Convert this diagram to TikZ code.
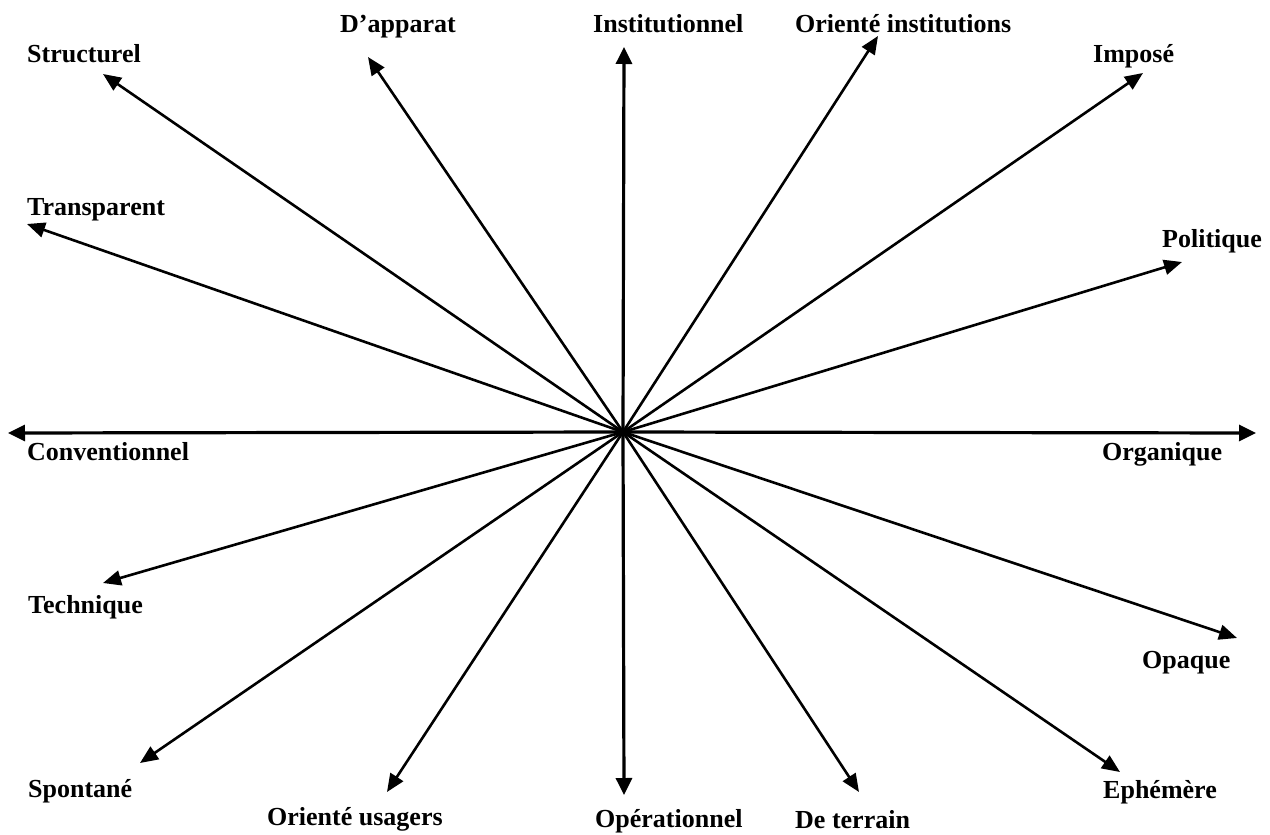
\documentclass[tikz,border=0pt]{standalone}
\usepackage{fontspec}
\setmainfont{Liberation Serif}
\usetikzlibrary{arrows.meta}
\begin{document}
\begin{tikzpicture}[x=1pt,y=-1pt,
  lbl/.style={anchor=base west,inner sep=0pt,font=\fontsize{26}{30}\selectfont\bfseries},
  ray/.style={line width=2.6pt,-{Triangle[length=18pt,width=15pt]}},
  axis/.style={line width=3.2pt,-{Triangle[length=17pt,width=16pt]}}]
\useasboundingbox (0,0) rectangle (1270,835);
\coordinate (c) at (623,432);
% tips
\coordinate (tStr) at (103,74);
\coordinate (tApp) at (368,57);
\coordinate (tIns) at (624,47);
\coordinate (tOri) at (878,36);
\coordinate (tImp) at (1143,73);
\coordinate (tPol) at (1182,262);
\coordinate (tOrg) at (1256,433);
\coordinate (tOpa) at (1237,638);
\coordinate (tEph) at (1120,772);
\coordinate (tTer) at (859,792);
\coordinate (tOpe) at (624,795);
\coordinate (tUsa) at (387,792);
\coordinate (tSpo) at (140,763);
\coordinate (tTec) at (103,583);
\coordinate (tCon) at (8,433);
\coordinate (tTra) at (27,224);
% labels
\node[lbl] (lStr) at (27,62) {Structurel};
\node[lbl] (lApp) at (340,32) {D’apparat};
\node[lbl] (lIns) at (593,32) {Institutionnel};
\node[lbl] (lOri) at (795,32) {Orienté institutions};
\node[lbl] (lImp) at (1093,62) {Imposé};
\node[lbl] (lTra) at (27,215) {Transparent};
\node[lbl] (lPol) at (1162,247) {Politique};
\node[lbl] (lCon) at (27,460) {Conventionnel};
\node[lbl] (lOrg) at (1102,460) {Organique};
\node[lbl] (lTec) at (28,613) {Technique};
\node[lbl] (lOpa) at (1142,668) {Opaque};
\node[lbl] (lSpo) at (28,797) {Spontané};
\node[lbl] (lEph) at (1103,798) {Ephémère};
\node[lbl] (lUsa) at (267,825) {Orienté usagers};
\node[lbl] (lOpe) at (595,827) {Opérationnel};
\node[lbl] (lTer) at (795,828) {De terrain};
% arrows
\draw[axis] (c) -- (tIns);
\draw[axis] (c) -- (tOpe);
\draw[axis] (c) -- (tCon);
\draw[axis] (c) -- (tOrg);
\foreach \t in {tStr,tApp,tOri,tImp,tPol,tOpa,tEph,tTer,tUsa,tSpo,tTec,tTra}
  \draw[ray] (c) -- (\t);
\end{tikzpicture}
\end{document}
